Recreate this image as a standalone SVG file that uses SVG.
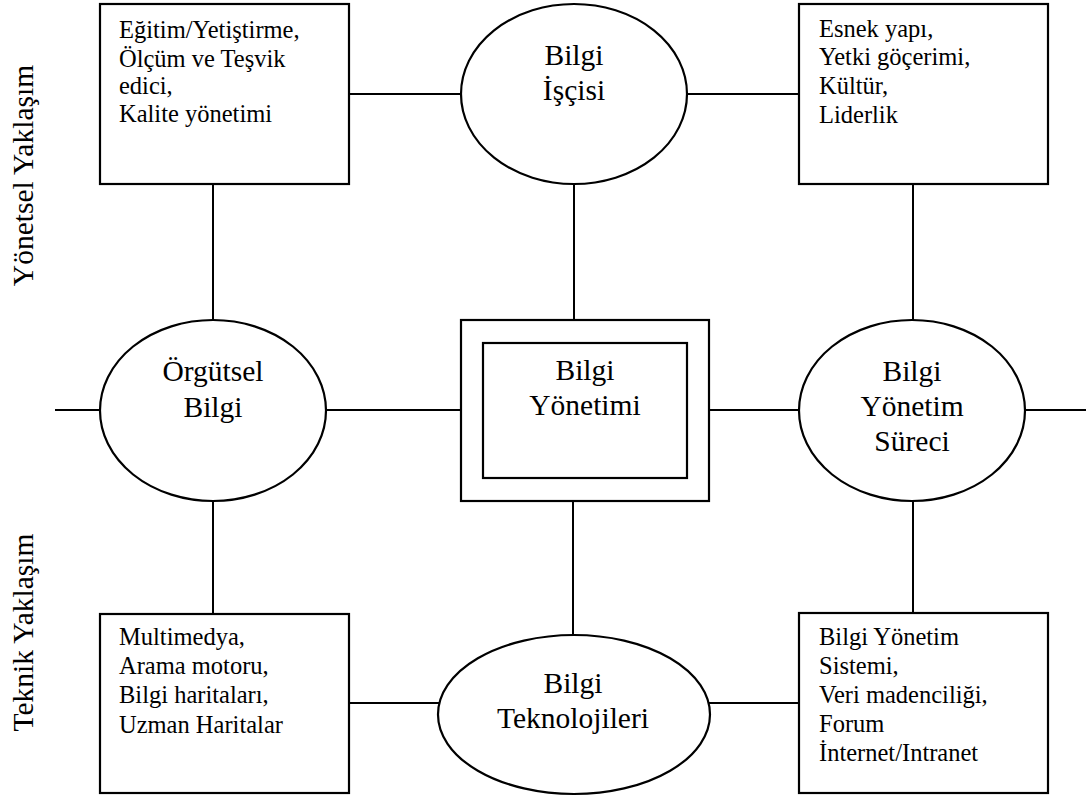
<svg xmlns="http://www.w3.org/2000/svg" width="1089" height="798" viewBox="0 0 1089 798">
  <style>
    .shape { fill: #fff; stroke: #000; stroke-width: 2.2; }
    .link { stroke: #000; stroke-width: 2; fill: none; }
    .box { font-size: 24.5px; fill: #000; }
    .big { font-size: 29.5px; fill: #000; text-anchor: middle; }
  </style>
  <rect width="1089" height="798" fill="#fff"/>

  <!-- connectors -->
  <g id="connectors" class="link">
    <line x1="349" y1="94" x2="461" y2="94"/>
    <line x1="687" y1="94" x2="799" y2="94"/>
    <line x1="213" y1="184" x2="213" y2="320"/>
    <line x1="574" y1="184" x2="574" y2="320"/>
    <line x1="913" y1="184" x2="913" y2="320"/>
    <line x1="55" y1="410" x2="100" y2="410"/>
    <line x1="326" y1="410" x2="461" y2="410"/>
    <line x1="709" y1="410" x2="799" y2="410"/>
    <line x1="1025" y1="410" x2="1086" y2="410"/>
    <line x1="213" y1="501" x2="213" y2="614"/>
    <line x1="573" y1="501" x2="573" y2="635"/>
    <line x1="913" y1="501" x2="913" y2="613"/>
    <line x1="349" y1="703" x2="439" y2="703"/>
    <line x1="709" y1="703" x2="799" y2="703"/>
  </g>

  <g font-family="'Liberation Serif', 'Times New Roman', Times, serif">
    <!-- side labels -->
    <g id="axis-labels">
      <text class="big" transform="translate(33,175.5) rotate(-90)">Yönetsel Yaklaşım</text>
      <text class="big" transform="translate(33,632.5) rotate(-90)">Teknik Yaklaşım</text>
    </g>

    <g id="node-hr">
      <rect class="shape" x="100" y="4" width="249" height="180"/>
      <text class="box"><tspan x="119" y="38">Eğitim/Yetiştirme,</tspan><tspan x="119" y="67">Ölçüm ve Teşvik</tspan><tspan x="119" y="94">edici,</tspan><tspan x="119" y="122">Kalite yönetimi</tspan></text>
    </g>

    <g id="node-knowledge-worker">
      <ellipse class="shape" cx="574" cy="94" rx="113" ry="90"/>
      <text class="big"><tspan x="574" y="65">Bilgi</tspan><tspan x="574" y="100">İşçisi</tspan></text>
    </g>

    <g id="node-organisation">
      <rect class="shape" x="799" y="4" width="249" height="180"/>
      <text class="box"><tspan x="819" y="37">Esnek yapı,</tspan><tspan x="819" y="65">Yetki göçerimi,</tspan><tspan x="819" y="94">Kültür,</tspan><tspan x="819" y="123">Liderlik</tspan></text>
    </g>

    <g id="node-organisational-knowledge">
      <ellipse class="shape" cx="213" cy="410.5" rx="113" ry="90.5"/>
      <text class="big"><tspan x="213" y="381">Örgütsel</tspan><tspan x="213" y="417">Bilgi</tspan></text>
    </g>

    <g id="node-knowledge-management">
      <rect class="shape" x="461" y="320" width="248" height="181"/>
      <rect class="shape" x="483" y="343" width="204" height="135"/>
      <text class="big"><tspan x="585" y="380">Bilgi</tspan><tspan x="585" y="415">Yönetimi</tspan></text>
    </g>

    <g id="node-km-process">
      <ellipse class="shape" cx="912" cy="410.5" rx="113" ry="90.5"/>
      <text class="big"><tspan x="912" y="381">Bilgi</tspan><tspan x="912" y="416">Yönetim</tspan><tspan x="912" y="451">Süreci</tspan></text>
    </g>

    <g id="node-tools">
      <rect class="shape" x="100" y="614" width="249" height="179"/>
      <text class="box"><tspan x="119" y="645">Multimedya,</tspan><tspan x="119" y="674">Arama motoru,</tspan><tspan x="119" y="703">Bilgi haritaları,</tspan><tspan x="119" y="733">Uzman Haritalar</tspan></text>
    </g>

    <g id="node-information-technologies">
      <ellipse class="shape" cx="574" cy="714.5" rx="136" ry="79.5"/>
      <text class="big"><tspan x="573" y="693">Bilgi</tspan><tspan x="573" y="728">Teknolojileri</tspan></text>
    </g>

    <g id="node-systems">
      <rect class="shape" x="799" y="613" width="249" height="180"/>
      <text class="box"><tspan x="819" y="645">Bilgi Yönetim</tspan><tspan x="819" y="674">Sistemi,</tspan><tspan x="819" y="703">Veri madenciliği,</tspan><tspan x="819" y="732">Forum</tspan><tspan x="819" y="761">İnternet/Intranet</tspan></text>
    </g>
  </g>
</svg>
